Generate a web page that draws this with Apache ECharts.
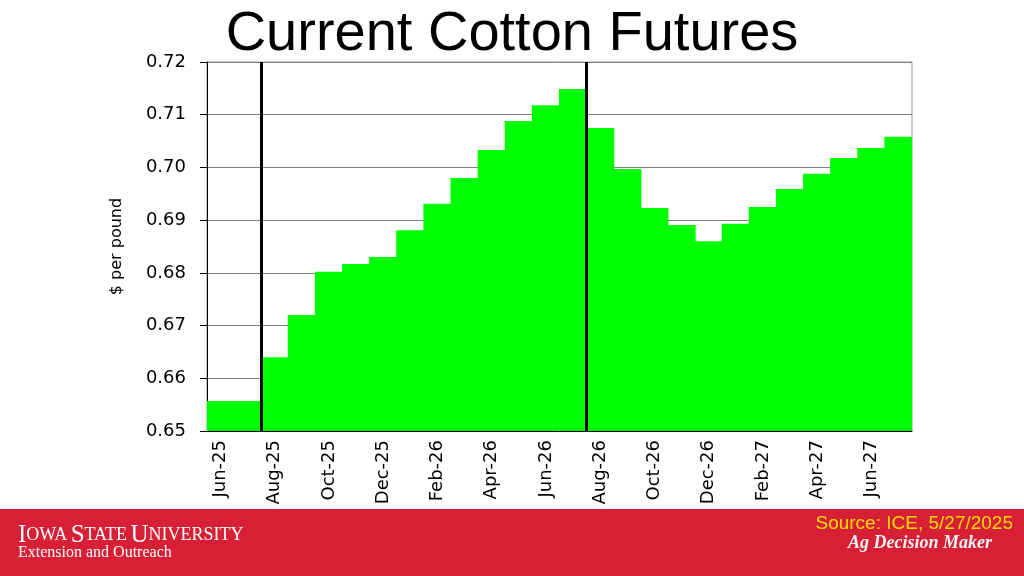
<!DOCTYPE html>
<html><head><meta charset="utf-8">
<script src="https://cdn.jsdelivr.net/npm/echarts@6/dist/echarts.min.js"></script>
<style>html,body{margin:0;padding:0;background:#fff}#c{width:1024px;height:576px}</style>
</head><body><div id="c"></div>
<script>
const months = ['Jun-25','Jul-25','Aug-25','Sep-25','Oct-25','Nov-25','Dec-25','Jan-26','Feb-26','Mar-26','Apr-26','May-26','Jun-26','Jul-26','Aug-26','Sep-26','Oct-26','Nov-26','Dec-26','Jan-27','Feb-27','Mar-27','Apr-27','May-27','Jun-27','Jul-27'];
const prices = [0.6557,0.6557,0.6640,0.6720,0.6802,0.6817,0.6830,0.6881,0.6931,0.6980,0.7033,0.7088,0.7118,0.7149,0.7075,0.6997,0.6923,0.6891,0.6860,0.6893,0.6925,0.6959,0.6988,0.7018,0.7037,0.7058];
const dividers = [2, 14]; // boundaries (in months from start) marking contract-year breaks
const yTicks = {min:0.65, max:0.72, step:0.01};

const chart = echarts.init(document.getElementById('c'));
const F = 'Liberation Sans, Arial, sans-serif';
const D = 'DejaVu Sans, sans-serif';
chart.setOption({
  animation:false,
  backgroundColor:'#fff',
  title:{text:'Current Cotton Futures', left:'center', top:2, textStyle:{fontFamily:F, fontSize:56, fontWeight:'normal', color:'#000'}},
  grid:{left:207, right:112, top:62, bottom:145, show:true, borderColor:'#999', borderWidth:1},
  xAxis:[{
    type:'category', data:months, boundaryGap:true,
    axisLine:{lineStyle:{color:'#000', width:1}},
    axisTick:{interval:1, length:7, lineStyle:{color:'#000'}},
    axisLabel:{interval:1, rotate:90, fontFamily:D, fontSize:18, color:'#000', margin:9}
  },{
    type:'value', min:0, max:months.length, show:false
  }],
  yAxis:{
    type:'value', min:yTicks.min, max:yTicks.max, interval:yTicks.step,
    name:'$ per pound', nameLocation:'middle', nameGap:82,
    nameTextStyle:{fontFamily:D, fontSize:16, color:'#000'},
    axisLine:{show:true, lineStyle:{color:'#000'}},
    axisTick:{show:true, length:7, lineStyle:{color:'#000'}},
    axisLabel:{fontFamily:D, fontSize:18, color:'#000', margin:21, formatter:v=>v.toFixed(2)},
    splitLine:{lineStyle:{color:'#808080', width:1}}
  },
  series:[{
    type:'bar', data:prices, barWidth:'104%', xAxisIndex:0,
    itemStyle:{color:'#00ff00', borderWidth:0}
  },{
    type:'line', xAxisIndex:1, data:[], silent:true,
    markLine:{symbol:'none', silent:true, label:{show:false},
      lineStyle:{color:'#000', width:3, type:'solid'},
      data:dividers.map(d=>({xAxis:d}))}
  }],
  graphic:[
    {type:'rect', left:0, top:509, shape:{width:1024, height:67}, style:{fill:'#d71f35'}, z:-1},
    {type:'text', left:18, top:523, style:{
      text:'{b|I}{s|OWA} {b|S}{s|TATE} {b|U}{s|NIVERSITY}',
      rich:{b:{fontFamily:'Liberation Serif, serif', fontSize:25, fill:'#fff'}, s:{fontFamily:'Liberation Serif, serif', fontSize:18, fill:'#fff'}}
    }},
    {type:'text', left:18, top:545, style:{text:'Extension and Outreach', font:'16px "Liberation Serif", serif', fill:'#fff'}},
    {type:'text', right:11, top:514, style:{text:'Source: ICE, 5/27/2025', font:'19px "Liberation Sans", Arial, sans-serif', fill:'#ffdc00'}},
    {type:'text', left:848, top:534, style:{text:'Ag Decision Maker', font:'italic bold 18px "Liberation Serif", serif', fill:'#f2f2f2'}}
  ]
});
</script></body></html>
